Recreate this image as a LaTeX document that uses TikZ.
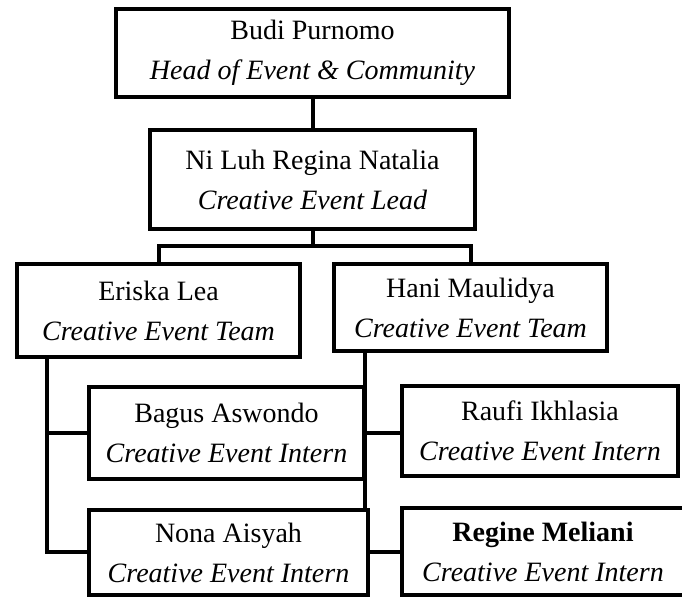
\documentclass[tikz,border=0pt]{standalone}
\usepackage{fontspec}
\setmainfont{Liberation Serif}

\tikzset{
	box/.style 2 args={draw, line width=3pt, align=center, inner sep=0pt,
		minimum width=#1*0.75pt, minimum height=#2*0.75pt,
		font=\fontsize{21}{30}\selectfont},
	link/.style={line width=3pt}
}

\begin{document}
\begin{tikzpicture}[x=0.75pt,y=0.75pt]
			\useasboundingbox (0,0) rectangle (682,599);
			
			% boxes
			\node[box={393}{88}] (budi) at (312.5,546) {Budi Purnomo\\\textit{Head of Event \& Community}};
			\node[box={325}{99}] (niluh) at (312.5,419.5) {Ni Luh Regina Natalia\\\textit{Creative Event Lead}};
			
			\node[box={283}{93}] (eriska) at (158.5,288.5) {Eriska Lea\\\textit{Creative Event Team}};
			\node[box={273}{87}] (hani) at (470.5,291.5) {Hani Maulidya\\\textit{Creative Event Team}};
			
			\node[box={275}{92}] (bagus) at (226.5,166) {Bagus Aswondo\\\textit{Creative Event Intern}};
			\node[box={276}{90}] (raufi) at (540,168) {Raufi Ikhlasia\\\textit{Creative Event Intern}};
			
			\node[box={279}{85}] (nona) at (228.5,46.5) {Nona Aisyah\\\textit{Creative Event Intern}};
			\node[box={282}{87}] (regine) at (543,47.5) {\textbf{Regine Meliani}\\\textit{Creative Event Intern}};
			
			% connectors
			\draw[link] (budi.south) -- (niluh.north);
			
			\coordinate (bar) at (312.5,353);
			\draw[link] (niluh.south) -- (bar);
			\draw[link] (eriska.north) |- (bar) -| (hani.north);
			
			\coordinate (eriskadrop) at (47,242);
			\draw[link] (eriskadrop) |- (bagus.west);
			\draw[link] (eriskadrop) |- (nona.west);
			
			\draw[link] ([xshift=-1pt]bagus.east |- hani.south) -- ([xshift=-1pt]bagus.east |- nona.north);
			
			\draw[link] (bagus.east) -- (bagus.east -| raufi.west);
			\draw[link] (nona.east) -- (nona.east -| regine.west);
		\end{tikzpicture}
\end{document}
